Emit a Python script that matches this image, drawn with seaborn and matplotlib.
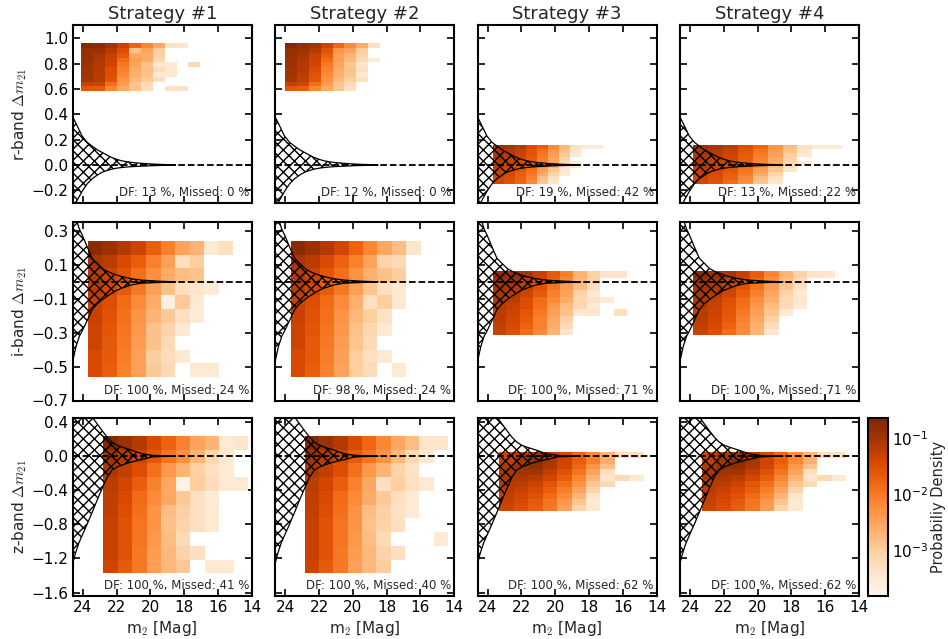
import numpy as np
import matplotlib
matplotlib.use("Agg")
import matplotlib.pyplot as plt
from matplotlib.colors import LogNorm
import seaborn as sns

# ---------------- data ----------------
strategies = ["Strategy #1", "Strategy #2", "Strategy #3", "Strategy #4"]
bands = ["r", "i", "z"]
x_ticks = [24, 22, 20, 18, 16, 14]
y_ticks_r = [-0.2, 0.0, 0.2, 0.4, 0.6, 0.8, 1.0]
y_ticks_i = [0.3, 0.1, -0.1, -0.3, -0.5, -0.7]
y_ticks_z = [0.4, 0.0, -0.4, -0.8, -1.2, -1.6]
ylim_r = (-0.30, 1.105)
ylim_i = (-0.70, 0.35)
ylim_z = (-1.64, 0.447)

df_pct = [[13, 12, 19, 13], [100, 98, 100, 100], [100, 100, 100, 100]]
missed_pct = [[0, 0, 42, 22], [24, 24, 71, 71], [41, 40, 62, 62]]

# error envelopes (m2, upper, lower) per band
env_m_r = [24.6, 24.3, 24.05, 23.75, 23.46, 23.15, 22.87, 22.6, 22.3, 22.0, 21.7, 21.4, 21.1, 20.8, 20.5, 20.0, 19.5, 19.0, 18.5]
env_up_r = [0.38, 0.30, 0.23, 0.18, 0.15, 0.12, 0.10, 0.08, 0.06, 0.045, 0.033, 0.026, 0.02, 0.016, 0.013, 0.008, 0.005, 0.003, 0.0]
env_lo_r = [-0.34, -0.27, -0.21, -0.15, -0.11, -0.08, -0.058, -0.045, -0.033, -0.025, -0.02, -0.016, -0.013, -0.011, -0.009, -0.006, -0.004, -0.002, 0.0]

env_m_i = [24.6, 24.4, 24.2, 24.04, 23.75, 23.45, 23.16, 22.86, 22.57, 22.28, 22.0, 21.7, 21.4, 21.1, 20.8, 20.5, 20.0, 19.5, 19.0, 18.5]
env_up_i = [0.45, 0.37, 0.31, 0.277, 0.208, 0.139, 0.11, 0.08, 0.063, 0.05, 0.04, 0.031, 0.024, 0.018, 0.014, 0.01, 0.007, 0.004, 0.002, 0.0]
env_lo_i = [-0.47, -0.38, -0.32, -0.29, -0.23, -0.165, -0.13, -0.106, -0.085, -0.067, -0.05, -0.038, -0.027, -0.018, -0.012, -0.008, -0.006, -0.004, -0.002, 0.0]

env_m_z = [24.6, 24.44, 24.24, 24.04, 23.75, 23.45, 23.16, 22.86, 22.57, 22.28, 22.0, 21.7, 21.4, 21.1, 20.8, 20.5, 20.2, 19.9, 19.5, 19.0, 18.5]
env_up_z = [0.9, 0.8, 0.7, 0.62, 0.53, 0.46, 0.38, 0.30, 0.225, 0.166, 0.13, 0.107, 0.088, 0.069, 0.048, 0.029, 0.018, 0.01, 0.006, 0.003, 0.0]
env_lo_z = [-1.26, -1.14, -1.02, -0.93, -0.80, -0.66, -0.52, -0.38, -0.25, -0.165, -0.13, -0.107, -0.085, -0.068, -0.052, -0.041, -0.025, -0.01, -0.006, -0.003, 0.0]

# 2-D histogram extents (m2 faint->bright, dm low->high) and log10 densities
# (rows listed from top (largest dm) to bottom, columns from faint to bright)
r1_x, r1_y = (24.1, 17.04), (0.582, 0.961)
r1_logp = [
    [-0.7, -0.8, -1.0, -1.3, -1.75, -2.15, -2.55, -3.35, -3.4, None],
    [-0.9, -0.95, -1.15, -1.5, -2.85, -2.5, -3.0, None, None, None],
    [-0.9, -1.05, -1.3, -1.65, -2.55, -2.6, -3.05, None, None, None],
    [-0.9, -1.1, -1.35, -1.85, -2.45, -2.6, -3.15, None, None, None],
    [-0.95, -1.15, -1.35, -2.0, -2.5, -2.85, -3.5, -3.5, None, -3.2],
    [-1.0, -1.15, -1.5, -2.1, -2.6, -2.8, -3.25, -3.5, None, None],
    [-1.0, -1.2, -1.5, -2.15, -2.65, -2.85, -3.5, -3.5, None, None],
    [-1.05, -1.2, -1.55, -2.3, -2.75, -2.95, -3.3, None, None, None],
    [-1.3, -1.35, -1.9, -2.4, -2.9, -3.2, None, None, None, None],
    [-1.6, -1.65, -2.15, -2.6, -2.85, -3.25, None, -3.35, -3.35, None],
]
r2_x, r2_y = (24.0, 17.0), (0.582, 0.961)
r2_logp = [
    [-0.7, -0.85, -1.0, -1.35, -1.8, -2.2, -2.6, -3.3, None, None],
    [-0.9, -1.0, -1.15, -1.55, -2.3, -2.5, -3.0, None, None, None],
    [-0.9, -1.05, -1.3, -1.7, -2.45, -2.7, -3.1, None, None, None],
    [-0.95, -1.1, -1.35, -1.85, -2.45, -2.75, -3.2, -3.5, None, None],
    [-0.95, -1.15, -1.4, -2.0, -2.5, -2.9, -3.4, None, None, None],
    [-1.0, -1.15, -1.5, -2.1, -2.6, -2.85, -3.3, None, None, None],
    [-1.0, -1.2, -1.55, -2.2, -2.65, -2.9, -3.5, None, None, None],
    [-1.05, -1.25, -1.6, -2.3, -2.75, -3.0, -3.3, None, None, None],
    [-1.3, -1.4, -1.9, -2.4, -2.9, -3.2, None, None, None, None],
    [-1.6, -1.7, -2.15, -2.6, -2.9, -3.3, None, None, None, None],
]
r3_x, r3_y = (23.69, 17.16), (-0.15, 0.156)
r3_logp = [
    [-0.95, -1.0, -1.15, -1.45, -1.7, -2.2, -2.75, -3.35, -3.55, -3.55],
    [-1.05, -1.15, -1.3, -1.55, -1.9, -2.35, -2.85, -3.4, None, None],
    [-1.1, -1.2, -1.35, -1.6, -2.0, -2.45, -2.95, -3.5, None, None],
    [-1.1, -1.25, -1.4, -1.65, -2.05, -2.5, -3.1, None, None, None],
    [-1.15, -1.3, -1.45, -1.7, -2.1, -2.55, -3.2, -3.6, None, None],
    [-1.2, -1.35, -1.5, -1.8, -2.25, -2.7, -3.3, -3.4, None, None],
    [-1.25, -1.4, -1.6, -1.9, -2.4, -2.9, -3.4, None, None, None],
    [-1.3, -1.45, -1.7, -2.0, -2.6, -3.1, -3.5, None, None, None],
    [-1.35, -1.5, -1.75, -2.1, -2.8, -3.3, None, None, None, None],
    [-1.4, -1.55, -1.8, -2.2, -2.9, -3.4, None, None, None, None],
]
r4_x, r4_y = (23.8, 15.0), (-0.15, 0.156)
r4_logp = [
    [-0.95, -1.05, -1.2, -1.5, -1.8, -2.3, -2.8, -3.3, -3.5, -3.55],
    [-1.05, -1.15, -1.3, -1.6, -1.95, -2.4, -2.9, -3.4, None, None],
    [-1.1, -1.2, -1.35, -1.65, -2.05, -2.5, -3.0, -3.5, None, None],
    [-1.1, -1.25, -1.4, -1.7, -2.1, -2.55, -3.1, None, None, None],
    [-1.15, -1.3, -1.45, -1.75, -2.15, -2.6, -3.2, -3.5, None, None],
    [-1.2, -1.35, -1.55, -1.85, -2.3, -2.75, -3.3, None, None, None],
    [-1.25, -1.4, -1.6, -1.95, -2.45, -2.9, -3.4, None, None, None],
    [-1.3, -1.45, -1.7, -2.05, -2.6, -3.1, None, None, None, None],
    [-1.35, -1.5, -1.75, -2.15, -2.8, -3.3, None, None, None, None],
    [-1.4, -1.55, -1.85, -2.25, -2.9, -3.4, None, None, None, None],
]
i1_x, i1_y = (23.7, 15.1), (-0.56, 0.24)
i1_logp = [
    [-0.75, -0.95, -1.15, -1.35, -1.7, -2.1, -2.5, -2.7, -3.5, -3.3],
    [-1.05, -1.2, -1.45, -1.7, -2.1, -2.45, -3.3, -3.0, None, None],
    [-1.15, -1.35, -1.55, -1.9, -2.25, -2.6, -2.8, -2.85, None, None],
    [-1.2, -1.4, -1.65, -2.0, -2.45, -2.85, -3.3, -3.4, -3.55, None],
    [-1.3, -1.5, -1.85, -2.2, -2.6, -3.7, -2.95, -3.5, None, None],
    [-1.3, -1.55, -1.9, -2.3, -2.7, -2.95, -3.3, -3.55, None, None],
    [-1.35, -1.6, -1.95, -2.35, -2.85, -3.1, -3.5, None, None, None],
    [-1.35, -1.65, -2.0, -2.4, -2.85, -3.2, None, None, None, None],
    [-1.45, -1.65, -2.05, -2.45, -3.0, -3.25, -3.5, None, None, None],
    [-1.45, -1.7, -2.1, -2.45, -2.95, -3.2, None, -3.5, -3.5, None],
]
i2_x, i2_y = (23.66, 15.13), (-0.56, 0.24)
i2_logp = [
    [-0.75, -0.95, -1.15, -1.4, -1.75, -2.15, -2.55, -2.8, -3.4, None],
    [-1.05, -1.2, -1.45, -1.75, -2.1, -2.5, -3.1, -3.2, None, None],
    [-1.15, -1.35, -1.6, -1.9, -2.3, -2.65, -2.85, -3.0, None, None],
    [-1.2, -1.4, -1.65, -2.0, -2.45, -2.9, -3.3, -3.5, None, None],
    [-1.3, -1.5, -1.85, -2.2, -2.65, -3.3, -3.0, -3.5, None, None],
    [-1.3, -1.55, -1.9, -2.3, -2.75, -3.0, -3.35, None, None, None],
    [-1.35, -1.6, -1.95, -2.35, -2.85, -3.15, -3.5, None, None, None],
    [-1.35, -1.65, -2.0, -2.4, -2.9, -3.2, None, None, None, None],
    [-1.45, -1.65, -2.05, -2.45, -3.0, -3.3, -3.5, None, None, None],
    [-1.45, -1.7, -2.1, -2.5, -3.0, -3.25, None, -3.5, None, None],
]
i3_x, i3_y = (23.7, 15.73), (-0.313, 0.063)
i3_logp = [
    [-0.75, -0.9, -1.05, -1.3, -1.65, -2.1, -2.7, -3.05, -3.4, -3.4],
    [-0.95, -1.0, -1.2, -1.45, -1.75, -2.2, -2.75, -3.1, None, None],
    [-1.0, -1.1, -1.25, -1.55, -1.95, -2.4, -2.8, -3.3, None, None],
    [-1.05, -1.15, -1.35, -1.65, -2.1, -2.5, -3.1, -3.5, None, None],
    [-1.1, -1.2, -1.5, -1.85, -2.2, -2.6, -3.15, -3.35, -3.55, None],
    [-1.15, -1.3, -1.5, -1.9, -2.35, -2.8, -3.15, -3.5, None, None],
    [-1.2, -1.35, -1.6, -2.0, -2.45, -2.85, -3.5, -3.4, None, -3.3],
    [-1.2, -1.4, -1.65, -2.1, -2.55, -3.05, None, None, None, None],
    [-1.25, -1.45, -1.75, -2.1, -2.6, -3.25, None, None, None, None],
    [-1.3, -1.5, -1.85, -2.2, -2.7, -3.4, None, None, None, None],
]
i4_x, i4_y = (23.8, 15.4), (-0.313, 0.063)
i4_logp = [
    [-0.75, -0.9, -1.05, -1.3, -1.7, -2.15, -2.7, -3.1, -3.4, -3.45],
    [-0.95, -1.0, -1.2, -1.45, -1.8, -2.25, -2.8, -3.2, None, None],
    [-1.0, -1.1, -1.3, -1.55, -1.95, -2.4, -2.9, -3.35, None, None],
    [-1.05, -1.15, -1.35, -1.7, -2.1, -2.55, -3.1, -3.5, None, None],
    [-1.1, -1.25, -1.5, -1.85, -2.25, -2.65, -3.2, -3.4, None, None],
    [-1.15, -1.3, -1.55, -1.9, -2.35, -2.8, -3.2, -3.5, None, None],
    [-1.2, -1.35, -1.6, -2.0, -2.45, -2.9, -3.5, None, None, None],
    [-1.2, -1.4, -1.65, -2.1, -2.55, -3.05, None, None, None, None],
    [-1.25, -1.45, -1.75, -2.15, -2.65, -3.25, None, None, None, None],
    [-1.3, -1.5, -1.85, -2.2, -2.7, -3.4, None, None, None, None],
]
z1_x, z1_y = (22.79, 14.2), (-1.376, 0.236)
z1_logp = [
    [-0.7, -0.95, -1.15, -1.45, -1.75, -2.1, -2.5, -2.7, -3.5, -3.4],
    [-1.0, -1.15, -1.35, -1.6, -1.95, -2.25, -2.7, -3.15, -3.5, None],
    [-1.1, -1.25, -1.5, -1.9, -2.35, -2.7, -3.05, -3.3, -3.5, None],
    [-1.2, -1.4, -1.7, -2.1, -2.55, -3.75, -3.0, -3.25, -3.5, -3.5],
    [-1.25, -1.45, -1.85, -2.2, -2.55, -2.95, -3.3, -3.55, None, None],
    [-1.25, -1.5, -1.9, -2.3, -2.8, -3.05, -3.3, -3.5, None, None],
    [-1.3, -1.55, -1.95, -2.3, -2.85, -3.1, -3.3, -3.5, None, None],
    [-1.3, -1.55, -1.95, -2.35, -2.8, -3.2, None, None, None, None],
    [-1.3, -1.55, -2.0, -2.4, -2.75, -3.1, -3.3, None, None, None],
    [-1.35, -1.65, -2.0, -2.45, -2.75, -2.95, None, -3.5, -3.5, None],
]
z2_x, z2_y = (22.84, 14.36), (-1.376, 0.236)
z2_logp = [
    [-0.7, -0.95, -1.15, -1.45, -1.8, -2.15, -2.55, -2.8, -3.4, -3.4],
    [-1.0, -1.15, -1.35, -1.65, -1.95, -2.3, -2.75, -3.2, -3.5, None],
    [-1.1, -1.25, -1.5, -1.9, -2.35, -2.7, -3.1, -3.35, None, None],
    [-1.2, -1.4, -1.7, -2.1, -2.55, -3.3, -3.0, -3.3, -3.5, None],
    [-1.25, -1.45, -1.85, -2.2, -2.6, -2.95, -3.3, -3.5, None, None],
    [-1.25, -1.5, -1.9, -2.3, -2.8, -3.05, -3.35, -3.5, None, None],
    [-1.3, -1.55, -1.95, -2.3, -2.85, -3.1, -3.3, None, None, None],
    [-1.3, -1.55, -1.95, -2.35, -2.8, -3.2, None, None, None, -3.5],
    [-1.3, -1.55, -2.0, -2.4, -2.75, -3.1, -3.3, None, None, None],
    [-1.35, -1.65, -2.0, -2.45, -2.75, -3.0, None, None, None, None],
]
z3_x, z3_y = (23.3, 14.76), (-0.642, 0.052)
z3_logp = [
    [-1.4, -1.15, -1.0, -1.2, -1.45, -1.8, -2.2, -2.7, -3.3, -3.3],
    [-1.25, -1.0, -0.8, -1.05, -1.35, -1.7, -2.1, -2.6, None, None],
    [-1.15, -0.95, -0.85, -1.1, -1.4, -1.8, -2.3, -2.8, None, None],
    [-1.05, -1.0, -1.0, -1.25, -1.55, -1.95, -2.5, -3.3, None, None],
    [-1.1, -1.1, -1.2, -1.4, -1.7, -2.15, -2.7, -3.4, -3.2, -3.5],
    [-1.15, -1.2, -1.35, -1.6, -1.9, -2.3, -2.9, -3.2, None, None],
    [-1.2, -1.3, -1.45, -1.7, -2.05, -2.5, -3.1, None, None, None],
    [-1.25, -1.4, -1.55, -1.85, -2.2, -2.7, -3.4, None, None, None],
    [-1.3, -1.45, -1.65, -1.95, -2.35, -2.9, -3.5, None, None, None],
    [-1.35, -1.5, -1.7, -2.0, -2.45, -3.1, -3.5, None, None, None],
]
z4_x, z4_y = (23.3, 14.76), (-0.642, 0.052)
z4_logp = [
    [-1.4, -1.15, -1.0, -1.2, -1.45, -1.8, -2.25, -2.75, -3.3, -3.35],
    [-1.25, -1.0, -0.8, -1.05, -1.35, -1.7, -2.15, -2.65, None, None],
    [-1.15, -0.95, -0.85, -1.1, -1.4, -1.8, -2.35, -2.85, None, None],
    [-1.05, -1.0, -1.0, -1.25, -1.55, -1.95, -2.5, -3.3, None, None],
    [-1.1, -1.1, -1.2, -1.4, -1.7, -2.15, -2.7, -3.4, -3.2, -3.5],
    [-1.15, -1.2, -1.35, -1.6, -1.9, -2.3, -2.9, -3.2, None, None],
    [-1.2, -1.3, -1.45, -1.7, -2.05, -2.5, -3.1, None, None, None],
    [-1.25, -1.4, -1.55, -1.85, -2.2, -2.7, -3.4, None, None, None],
    [-1.3, -1.45, -1.65, -1.95, -2.35, -2.9, -3.5, None, None, None],
    [-1.35, -1.5, -1.7, -2.0, -2.45, -3.1, -3.5, None, None, None],
]

log_vmin, log_vmax = -3.83, -0.64

# ---------------- style ----------------
sns.set_style("ticks")
plt.rcParams.update({
    "font.family": ["DejaVu Sans"],
    "mathtext.fontset": "cm",
    "axes.linewidth": 1.5,
    "axes.edgecolor": "black",
    "xtick.direction": "in", "ytick.direction": "in",
    "xtick.top": True, "ytick.right": True,
    "xtick.major.size": 5, "ytick.major.size": 5,
    "xtick.major.width": 1.2, "ytick.major.width": 1.2,
    "xtick.color": "black", "ytick.color": "black",
    "hatch.linewidth": 1.0,
})
cmap = sns.color_palette("Oranges", as_cmap=True)
norm = LogNorm(vmin=10 ** log_vmin, vmax=10 ** log_vmax)

grids = [
    [(r1_x, r1_y, r1_logp), (r2_x, r2_y, r2_logp), (r3_x, r3_y, r3_logp), (r4_x, r4_y, r4_logp)],
    [(i1_x, i1_y, i1_logp), (i2_x, i2_y, i2_logp), (i3_x, i3_y, i3_logp), (i4_x, i4_y, i4_logp)],
    [(z1_x, z1_y, z1_logp), (z2_x, z2_y, z2_logp), (z3_x, z3_y, z3_logp), (z4_x, z4_y, z4_logp)],
]
envelopes = [(env_m_r, env_up_r, env_lo_r), (env_m_i, env_up_i, env_lo_i), (env_m_z, env_up_z, env_lo_z)]
ylims = [ylim_r, ylim_i, ylim_z]
yticks = [y_ticks_r, y_ticks_i, y_ticks_z]

W_PX, H_PX = 948, 639
fig = plt.figure(figsize=(W_PX / 100, H_PX / 100), dpi=100)
lefts = [72.7, 275.1, 477.5, 679.9]
tops = [25, 222.5, 418]
pw, ph = 179, 178

mappable = None
for r in range(3):
    for c in range(4):
        ax = fig.add_axes([lefts[c] / W_PX, 1 - (tops[r] + ph) / H_PX, pw / W_PX, ph / H_PX])
        (x0, x1), (y0, y1), logp = grids[r][c]
        arr = np.array(logp, dtype=float)[::-1]
        nrow, ncol = arr.shape
        xe = np.linspace(x0, x1, ncol + 1)
        ye = np.linspace(y0, y1, nrow + 1)
        dens = np.ma.masked_invalid(10 ** arr)
        mappable = ax.pcolormesh(xe, ye, dens, cmap=cmap, norm=norm, zorder=1)
        em, eu, el = envelopes[r]
        ax.fill_between(em, el, eu, facecolor="none", edgecolor="black",
                        hatch="xxx", linewidth=0.9, zorder=3)
        ax.axhline(0, color="black", ls="--", lw=1.3, zorder=2)
        ax.set_xlim(24.6, 14)
        ax.set_ylim(*ylims[r])
        ax.set_xticks(x_ticks)
        ax.set_yticks(yticks[r])
        ax.tick_params(labelsize=11, pad=3)
        if r < 2:
            ax.set_xticklabels([])
        else:
            ax.set_xlabel("m$_2$ [Mag]", fontsize=11, labelpad=3)
        if c > 0:
            ax.set_yticklabels([])
        else:
            ax.set_ylabel(f"{bands[r]}-band $\\Delta m_{{21}}$", fontsize=11, labelpad=2)
        if r == 0:
            ax.set_title(strategies[c], fontsize=13, pad=4)
        ax.text(0.985, 0.02, f"DF: {df_pct[r][c]} %, Missed: {missed_pct[r][c]} %",
                transform=ax.transAxes, ha="right", va="bottom", fontsize=8.5, zorder=5)
        for s in ax.spines.values():
            s.set_linewidth(1.5)

cax = fig.add_axes([868 / W_PX, 1 - 596 / H_PX, 20 / W_PX, 178 / H_PX])
cb = fig.colorbar(mappable, cax=cax)
cb.set_ticks([1e-3, 1e-2, 1e-1])
cb.ax.minorticks_off()
cb.ax.tick_params(direction="in", labelsize=11, length=5, width=1.2, pad=3)
cb.outline.set_linewidth(1.5)
cb.set_label("Probabiliy Density", fontsize=10.5, labelpad=2)

fig.savefig("out.png", dpi=100)
